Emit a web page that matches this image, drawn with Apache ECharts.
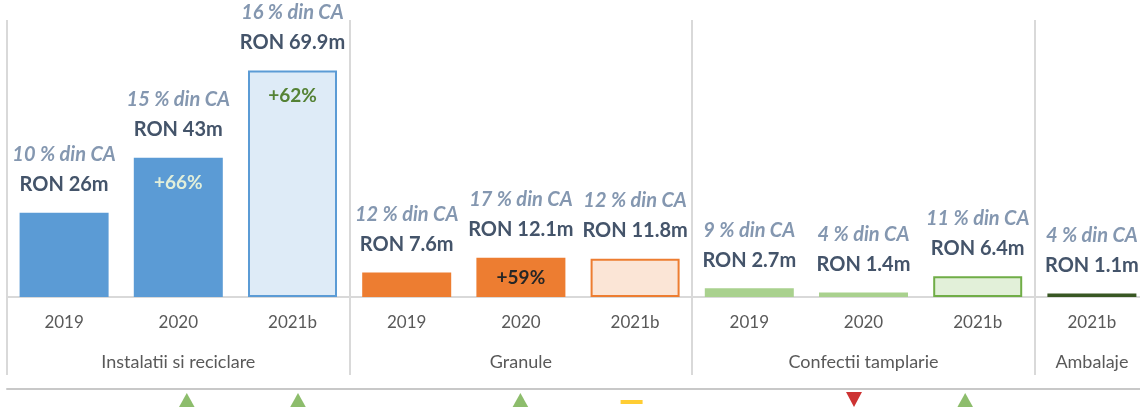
<!DOCTYPE html>
<html>
<head>
<meta charset="utf-8">
<script src="https://cdn.jsdelivr.net/npm/echarts@6/dist/echarts.min.js"></script>
<style>
    html, body { margin: 0; padding: 0; background: #fff; }
    #chart { width: 1140px; height: 407px; }
</style>
</head>
<body>
<div id="chart"></div>
<script>
    // chart values
    var years = ['2019', '2020', '2021b', '2019', '2020', '2021b', '2019', '2020', '2021b', '2021b'];
    var groups = ['Instalatii si reciclare', 'Granule', 'Confectii tamplarie', 'Ambalaje'];
    var groupOf = [0, 0, 0, 1, 1, 1, 2, 2, 2, 3];
    var revenue = [26, 43, 69.9, 7.6, 12.1, 11.8, 2.7, 1.4, 6.4, 1.1];
    var shareOfCA = [10, 15, 16, 12, 17, 12, 9, 4, 11, 4];
    var growth = [null, '+66%', '+62%', null, '+59%', null, null, null, null, null];
    var trend = [null, 'up', 'up', null, 'up', 'flat', null, 'down', 'up', null];

    // styles
    var solidColor = ['#5b9bd5', '#ed7d31', '#a9d18e', '#385723'];
    var budgetFill = ['#deebf7', '#fbe5d6', '#e2f0d9', '#385723'];
    var budgetBorder = ['#5b9bd5', '#ed7d31', '#70ad47', '#385723'];
    var growthColor = [null, '#e2efda', '#548235', null, '#262626', null, null, null, null, null];
    var trendSymbol = {
        up: { symbol: 'triangle', size: [20, 18], y: 13, color: '#70ad47', rotate: 0 },
        down: { symbol: 'triangle', size: [16, 15], y: 10.5, color: '#c00000', rotate: 180 },
        flat: { symbol: 'rect', size: [22, 4], y: 13, color: '#ffc000', rotate: 0 }
    };
    var font = 'Lato, "Noto Sans", sans-serif';
    var gridLine = '#d9d9d9';

    function middleOfGroup(i) {
        var idx = [];
        groupOf.forEach(function (g, k) { if (g === groupOf[i]) idx.push(k); });
        return idx[Math.floor(idx.length / 2)] === i;
    }
    function isBoundary(i) {
        return i === 0 || groupOf[i] !== groupOf[i - 1];
    }

    var bars = revenue.map(function (v, i) {
        var g = groupOf[i];
        var budget = years[i] === '2021b';
        return {
            value: v,
            itemStyle: budget ? {
                color: budgetFill[g], borderColor: budgetBorder[g], borderWidth: 2
            } : { color: solidColor[g] }
        };
    });

    var growthBars = revenue.map(function (v, i) {
        return {
            value: v,
            label: {
                show: !!growth[i],
                position: v > 20 ? 'insideTop' : 'inside',
                color: growthColor[i] || '#262626'
            }
        };
    });

    var trendPoints = [];
    trend.forEach(function (t, i) {
        if (!t) return;
        var s = trendSymbol[t];
        trendPoints.push({
            value: [i, s.y],
            symbol: s.symbol,
            symbolSize: s.size,
            symbolRotate: s.rotate,
            itemStyle: { color: s.color }
        });
    });

    var chart = echarts.init(document.getElementById('chart'));
    chart.setOption({
        animation: false,
        textStyle: { fontFamily: font },
        grid: [
            { left: 7, top: 20, width: 1142, bottom: 110, outerBoundsMode: 'none', containLabel: false },
            { left: 7, top: 389, right: 0, bottom: 0, outerBoundsMode: 'none', containLabel: false },
            { left: 20, top: 389, width: 1112, bottom: 0, outerBoundsMode: 'none', containLabel: false }
        ],
        xAxis: [{
            type: 'category',
            gridIndex: 0,
            data: years,
            axisLine: { lineStyle: { color: gridLine, width: 2 } },
            axisTick: {
                show: true,
                length: 78,
                interval: function (i) { return isBoundary(i); },
                lineStyle: { color: gridLine, width: 2 }
            },
            splitLine: {
                show: true,
                interval: function (i) { return isBoundary(i); },
                lineStyle: { color: gridLine, width: 2 }
            },
            axisLabel: {
                interval: 0,
                margin: 6,
                formatter: function (val, i) {
                    var s = '{y|' + val + '}';
                    if (middleOfGroup(i)) s += '\n{g|' + groups[groupOf[i]] + '}';
                    return s;
                },
                rich: {
                    y: { fontSize: 17, color: '#595959', lineHeight: 40, fontFamily: font },
                    g: { fontSize: 18, color: '#595959', lineHeight: 38, fontFamily: font }
                }
            }
        }, {
            type: 'category',
            gridIndex: 1,
            data: years,
            position: 'top',
            axisLine: { onZero: false, lineStyle: { color: '#c8c8c8', width: 2 } },
            axisTick: { show: false },
            axisLabel: { show: false }
        }, {
            type: 'category',
            gridIndex: 2,
            data: years,
            show: false
        }],
        yAxis: [{
            type: 'value',
            gridIndex: 0,
            min: 0,
            max: 85.5,
            show: false
        }, {
            type: 'value',
            gridIndex: 1,
            show: false
        }, {
            type: 'value',
            gridIndex: 2,
            min: 0,
            max: 18,
            inverse: true,
            show: false
        }],
        series: [{
            type: 'bar',
            name: 'Venituri',
            data: bars,
            barWidth: 89,
            label: {
                show: true,
                position: 'top',
                distance: 13,
                formatter: function (p) {
                    return '{p|' + shareOfCA[p.dataIndex] + ' % din CA}\n{v|RON ' + revenue[p.dataIndex] + 'm}';
                },
                rich: {
                    p: { fontSize: 20, fontWeight: 'bold', fontStyle: 'italic', color: '#8497b0', lineHeight: 30, fontFamily: font },
                    v: { fontSize: 20, fontWeight: 'bold', color: '#44546a', lineHeight: 30, fontFamily: font }
                }
            }
        }, {
            type: 'bar',
            name: 'Crestere',
            data: growthBars,
            barWidth: 89,
            barGap: '-100%',
            itemStyle: { color: 'rgba(0,0,0,0)' },
            label: {
                distance: 15,
                fontSize: 19,
                fontWeight: 'bold',
                lineHeight: 20,
                fontFamily: font,
                formatter: function (p) { return growth[p.dataIndex] || ''; }
            }
        }, {
            type: 'scatter',
            xAxisIndex: 2,
            yAxisIndex: 2,
            data: trendPoints
        }]
    });
</script>
</body>
</html>
